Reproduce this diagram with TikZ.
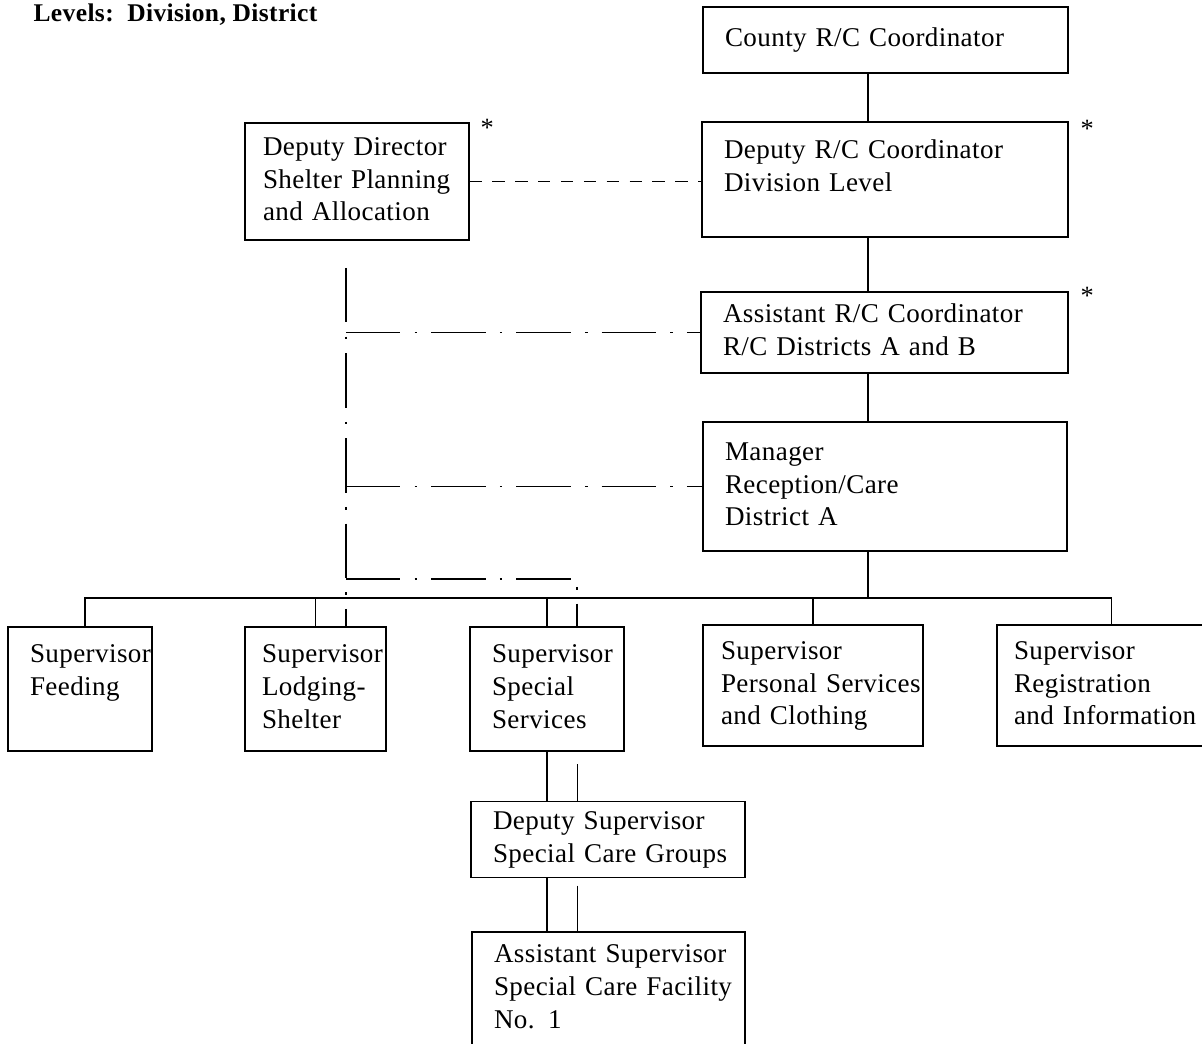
\documentclass[tikz,border=0pt]{standalone}
\usepackage{fontspec}
\setmainfont{Liberation Serif}[LetterSpace=1.5]
\usetikzlibrary{positioning}

\newcommand{\boxlines}[1]{\begin{tabular}{@{}l@{}}#1\end{tabular}}

\tikzset{
  orgbox/.style={draw, line width=0.7pt, align=left, inner xsep=0.44cm, inner ysep=0pt,
    font=\fontsize{15.4}{18.7}\selectfont},
  liaison/.style={line width=0.6pt, dash pattern=on 7pt off 6pt},
  coordline/.style={line width=0.7pt, dash pattern=on 31pt off 8pt on 1.5pt off 8pt},
  starmark/.style={inner sep=0pt, font=\fontsize{15}{15}\selectfont},
}

\begin{document}
\begin{tikzpicture}[line width=0.7pt]
\useasboundingbox (0,0) rectangle (24.04,-20.88);

\node[anchor=base west, inner sep=0pt, font=\bfseries\fontsize{14.5}{17}\selectfont] (levels) at (0.66,-0.44) {Levels:\ \ Division, District};

% division level
\node[orgbox, text width=6.42cm, minimum height=1.32cm] (county) at (17.71,-0.80) {\boxlines{County R/C Coordinator}};
\node[orgbox, text width=6.44cm, minimum height=2.30cm] (deprc) at (17.70,-3.59) {\boxlines{Deputy R/C Coordinator\\ Division Level\\[-0.2cm] \mbox{}}};
\node[orgbox, inner xsep=0.36cm, text width=3.76cm, minimum height=2.34cm] (depdir) at (7.14,-3.63) {\boxlines{Deputy Director\\ Shelter Planning\\ and Allocation}};
\node[orgbox, text width=6.46cm, minimum height=1.62cm] (asst) at (17.69,-6.65) {\boxlines{Assistant R/C Coordinator\\ R/C Districts A and B}};
\node[orgbox, text width=6.40cm, minimum height=2.58cm] (mgr) at (17.70,-9.73) {\boxlines{Manager\\ Reception/Care\\ District A}};

\node[starmark, below right=-0.08cm and 0.21cm of depdir.north east] (star1) {*};
\node[starmark, below right=-0.04cm and 0.23cm of deprc.north east] (star2) {*};
\node[starmark, below right=-0.10cm and 0.23cm of asst.north east] (star3) {*};

% district level
\node[orgbox, text width=2.00cm, minimum height=2.48cm] (feed) at (1.60,-13.78) {\boxlines{Supervisor\\ Feeding\\ \mbox{}}};
\node[orgbox, inner xsep=0.34cm, text width=2.14cm, minimum height=2.48cm] (lodg) at (6.31,-13.78) {\boxlines{Supervisor\\ Lodging-\\ Shelter}};
\node[orgbox, text width=2.20cm, minimum height=2.48cm] (spec) at (10.94,-13.78) {\boxlines{Supervisor\\ Special\\ Services}};
\node[orgbox, inner xsep=0.36cm, text width=3.68cm, minimum height=2.42cm] (pers) at (16.26,-13.71) {\boxlines{Supervisor\\ Personal Services\\ and Clothing}};
\node[orgbox, inner xsep=0.34cm, text width=3.46cm, minimum height=2.42cm] (reg) at (22.01,-13.71) {\boxlines{Supervisor\\ Registration\\ and Information}};
\node[orgbox, text width=4.60cm, minimum height=1.52cm] (dsup) at (12.16,-16.79) {\boxlines{Deputy Supervisor\\ Special Care Groups}};
\node[orgbox, text width=4.58cm, minimum height=2.28cm] (asup) at (12.17,-19.78) {\boxlines{Assistant Supervisor\\ Special Care Facility\\ No. 1}};

\coordinate (spine) at (17.36,0);
\coordinate (tap) at (6.92,-5.36);
\coordinate (loop) at (11.54,-11.58);
\coordinate (bus) at (0,-11.96);

% line of command
\draw (county.south -| spine) -- (deprc.north -| spine);
\draw (deprc.south -| spine) -- (asst.north -| spine);
\draw (asst.south -| spine) -- (mgr.north -| spine);
\draw (mgr.south -| spine) -- (spine |- bus);
\draw ([xshift=0.1cm]feed.north) |- ([xshift=0.22cm]reg.north |- bus) -- ([xshift=0.22cm]reg.north);
\foreach \b in {lodg,spec,pers}
  \draw (\b.north) -- (\b.north |- bus);
\draw (spec.south) -- (spec.south |- dsup.north);
\draw (dsup.south -| spec.south) -- (asup.north -| spec.south);
\draw[line width=0.5pt, shorten <=0.25cm] (spec.south -| loop) -- (dsup.north -| loop);
\draw[line width=0.5pt, shorten <=0.15cm] (dsup.south -| loop) -- (asup.north -| loop);

% coordination
\draw[liaison] (depdir.east) -- (depdir.east -| deprc.west);
\draw[coordline] (tap) -- (tap |- lodg.north);
\draw[coordline] (tap |- asst.west) -- (asst.west);
\draw[coordline] (tap |- mgr.west) -- (mgr.west);
\draw[coordline] (tap |- loop) -- (loop) -- (loop |- spec.north);
\end{tikzpicture}
\end{document}
